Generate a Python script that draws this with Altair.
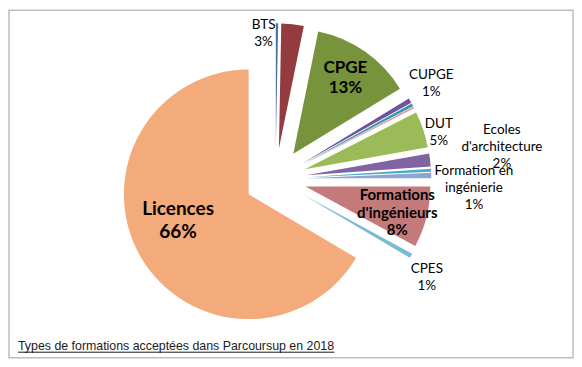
import altair as alt
import pandas as pd

# ---- data ----
categories = ["Autre 1", "BTS", "CPGE", "CUPGE", "Autre 2", "Autre 3", "DUT",
              "Ecoles d'architecture", "Autre 4", "Formation en ingénierie",
              "Formations d'ingénieurs", "CPES", "Licences"]
values = [0.3, 2.9, 13.1, 0.6, 0.4, 0.2, 4.7, 1.7, 0.4, 0.7, 7.9, 0.6, 66.5]
label_names = ["", "BTS", "CPGE", "CUPGE", "", "", "DUT",
               "Ecoles\nd'architecture", "", "Formation en\ningénierie",
               "Formations\nd'ingénieurs", "CPES", "Licences"]
title_text = "Types de formations acceptées dans Parcoursup en 2018"

# ---- styles ----
colors = ["#4F6FA8", "#943B3F", "#77933C", "#6E559A", "#3C96AE", "#D99694",
          "#9BBB59", "#8064A2", "#4BACC6", "#8EA5D3", "#C47A7B", "#78BBD4",
          "#F4AB7B"]
# label placement: (distance from pie centre, angle shift in degrees, style group)
label_layout = {
    "BTS": (146, -11, "out"),
    "CUPGE": (183, -1.3, "out"),
    "DUT": (170, 2.7, "out"),
    "Ecoles d'architecture": (229, -1, "out"),
    "Formation en ingénierie": (199, 3.9, "out"),
    "CPES": (181, 3.6, "out"),
    "Licences": (106, 6.8, "big"),
    "CPGE": (123, -0.4, "mid"),
    "Formations d'ingénieurs": (126.5, 1.2, "small"),
}
groups = {
    "out": dict(fontSize=13.5, fontWeight="normal", lineHeight=17),
    "big": dict(fontSize=19, fontWeight="bold", lineHeight=23),
    "mid": dict(fontSize=17, fontWeight="bold", lineHeight=20),
    "small": dict(fontSize=15, fontWeight="bold", lineHeight=17.5),
}
CX, CY, R, EXPLODE = 267, 169, 125, 31

rows = []
for i, (c, v, n) in enumerate(zip(categories, values, label_names)):
    r_lab, off_lab, grp = label_layout.get(c, (0, 0, "none"))
    text = f"{n}\n{round(v)}%" if n else ""
    nlines = text.count("\n") + 1 if text else 0
    lh = groups[grp]["lineHeight"] if grp in groups else 0
    rows.append(dict(cat=c, value=v, order=i, label=text,
                     r_lab=r_lab, off_lab=off_lab, grp=grp,
                     shift=(nlines - 1) * lh / 2 if nlines else 0))
df = pd.DataFrame(rows)

base = (
    alt.Chart(df)
    .transform_window(cum="sum(value)", sort=[alt.SortField("order")], frame=[None, 0])
    .transform_joinaggregate(total="sum(value)")
    .transform_calculate(
        start="(datum.cum - datum.value) / datum.total * 2 * PI",
        end="datum.cum / datum.total * 2 * PI",
        mid="(datum.cum - datum.value / 2) / datum.total * 2 * PI",
    )
    .transform_calculate(
        ox=f"{CX} + {EXPLODE} * sin(datum.mid)",
        oy=f"{CY} - {EXPLODE} * cos(datum.mid)",
        lx=f"{CX} + datum.r_lab * sin(datum.mid + datum.off_lab * PI / 180)",
        ly=f"{CY} - datum.r_lab * cos(datum.mid + datum.off_lab * PI / 180) - datum.shift",
    )
)

arcs = base.mark_arc(radius=R).encode(
    x=alt.X("ox:Q", scale=None, axis=None),
    y=alt.Y("oy:Q", scale=None, axis=None),
    theta=alt.Theta("start:Q", scale=None, stack=False),
    theta2="end:Q",
    color=alt.Color("cat:N", scale=alt.Scale(domain=categories, range=colors), legend=None),
)

layers = [arcs]
for g, st in groups.items():
    layers.append(
        base.transform_filter(f"datum.grp == '{g}'")
        .mark_text(font="Lato", align="center", baseline="middle", color="#000000",
                   lineBreak="\n", **st)
        .encode(x=alt.X("lx:Q", scale=None, axis=None),
                y=alt.Y("ly:Q", scale=None, axis=None),
                text="label:N")
    )

title = alt.Chart(pd.DataFrame({"t": [title_text]})).mark_text(
    align="left", baseline="middle", font="Liberation Sans", fontSize=12.4, color="#1a1a1a"
).encode(x=alt.value(9), y=alt.value(336), text="t:N")
underline = alt.Chart(pd.DataFrame({"t": [title_text]})).mark_rule(
    color="#1a1a1a", strokeWidth=1
).encode(x=alt.value(9), x2=alt.value(326), y=alt.value(342.5))

chart = (
    alt.layer(*layers, title, underline)
    .properties(width=565, height=348,
                padding={"left": 1, "top": 2, "right": 1, "bottom": 2},
                autosize=alt.AutoSizeParams(type="none"))
    .configure_view(stroke="#BDBDBD", strokeWidth=1.5)
)
chart.save("out.html", embed_options={"renderer": "svg", "actions": False})
